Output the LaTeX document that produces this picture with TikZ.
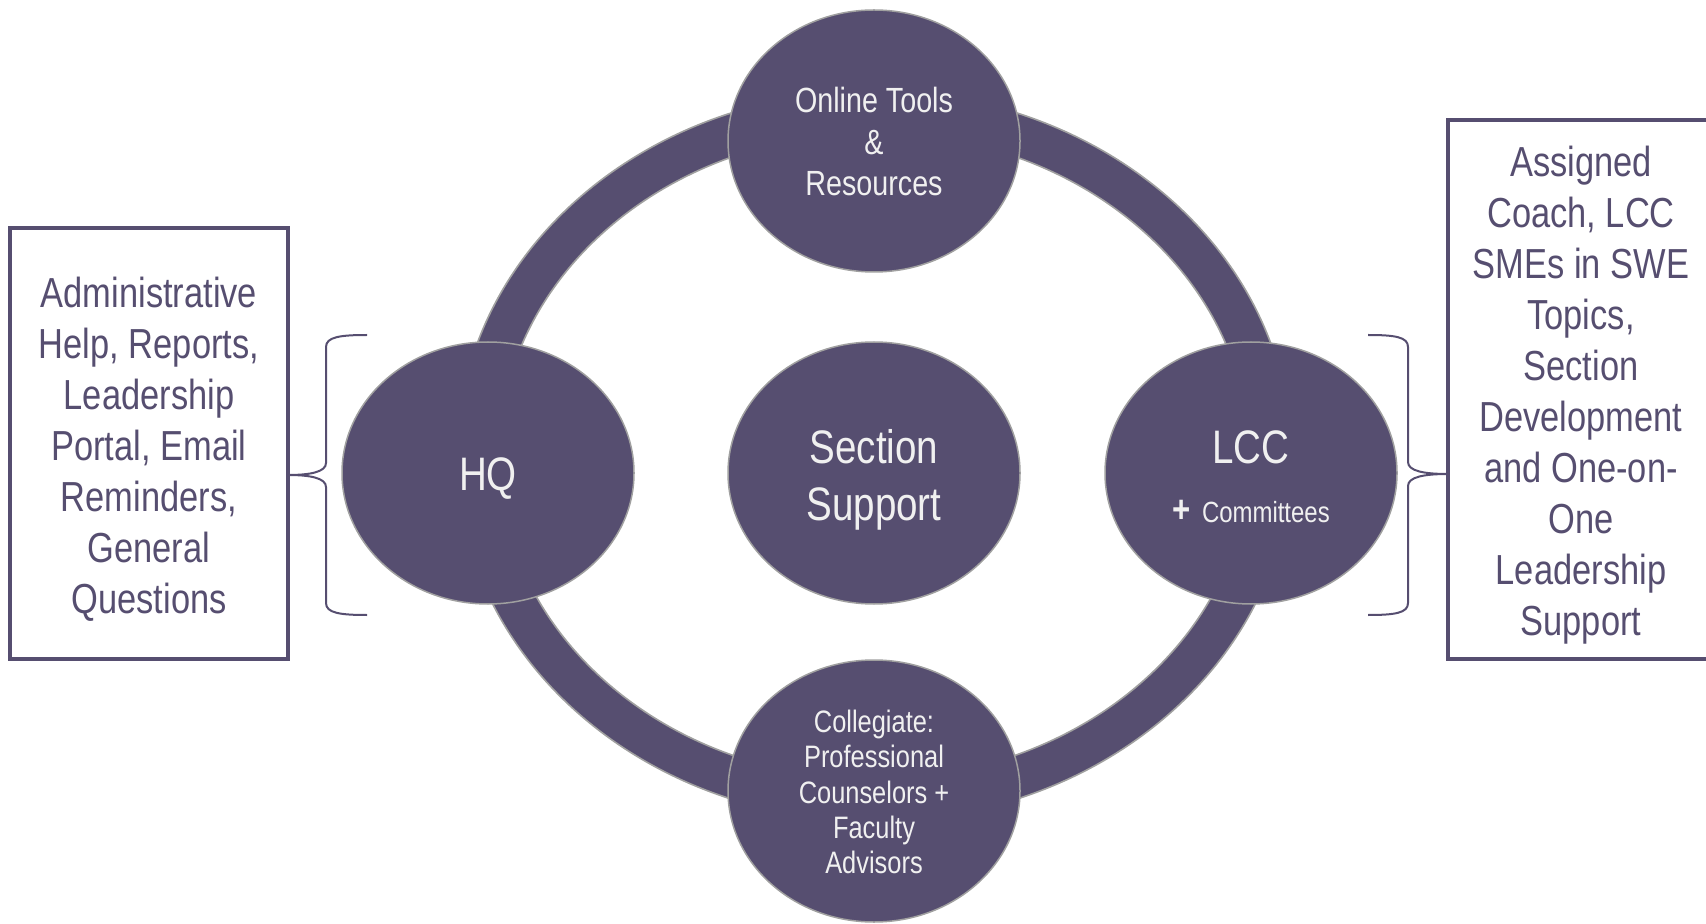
\documentclass[tikz,border=0pt]{standalone}
\usepackage{fontspec}
\setmainfont{Liberation Sans}[FakeStretch=0.82]
\usetikzlibrary{shapes.geometric}
\definecolor{sweP}{RGB}{86,78,112}
\definecolor{rimG}{RGB}{160,160,160}
\definecolor{txtW}{RGB}{240,240,240}
\tikzset{
  bubble/.style={ellipse, fill=sweP, draw=rimG, line width=0.75pt,
    minimum width=146pt, minimum height=131pt, inner sep=0pt,
    text=txtW, align=center},
  bubbletext/.style={text=txtW, align=center, inner sep=0pt},
  infobox/.style={draw=sweP, line width=2pt},
  infotext/.style={text=sweP, align=center, font=\fontsize{21}{25.5}\selectfont},
  bracket/.style={draw=sweP, line width=1pt}
}
\begin{document}
\begin{tikzpicture}[x=0.5pt,y=-0.5pt]
\useasboundingbox (0,0) rectangle (1706,924);
% ring
\fill[sweP, even odd rule, draw=rimG, line width=0.8pt]
  (874,456) ellipse [x radius=417, y radius=365]
  (874,456) ellipse [x radius=375, y radius=323];
% bubbles
\node[bubble] (tools) at (874,141) {};
\node[bubbletext, font=\fontsize{17.5}{20.7}\selectfont] (toolst) at (874,141.8) {Online Tools\\\&\\Resources};
\node[bubble] (sect) at (874,473) {};
\node[bubbletext, font=\fontsize{23.5}{28.3}\selectfont] (sectt) at (874,480) {Section\\Support};
\node[bubble] (hq) at (488,473) {};
\node[bubbletext, font=\fontsize{23.5}{28}\selectfont] (hqt) at (488,479) {HQ};
\node[bubble] (lcc) at (1251,473) {};
\node[bubbletext, font=\fontsize{23.5}{28}\selectfont] (lcct) at (1251,447) {LCC};
\node[bubbletext, font=\fontsize{14.6}{17}\selectfont] (lccc) at (1251,511) {{\fontsize{19}{17}\selectfont\bfseries +}\, Committees};
\node[bubble] (coll) at (874,791) {};
\node[bubbletext, font=\fontsize{15.5}{17.7}\selectfont] (collt) at (874,792) {Collegiate:\\Professional\\Counselors +\\Faculty\\Advisors};
% boxes
\draw[infobox] (10,228) rectangle (288,659);
\node[infotext] (lefttext) at (149,449) {Administrative\\Help, Reports,\\Leadership\\Portal, Email\\Reminders,\\General\\Questions};
\draw[infobox] (1448,120) rectangle (1730,659);
\node[infotext] (righttext) at (1581,395) {Assigned\\Coach, LCC\\SMEs in SWE\\Topics,\\Section\\Development\\and One-on-\\One\\Leadership\\Support};
% braces
\coordinate (ltip) at (288,475);
\coordinate (rtip) at (1448,474);
\draw[bracket] (367,335) .. controls (340,335) and (326,337) .. (326,347)
  -- (326,463) .. controls (326,472) and (310,475) .. (ltip)
  .. controls (310,475) and (326,478) .. (326,487)
  -- (326,603) .. controls (326,613) and (340,615) .. (367,615);
\draw[bracket] (1368,335) .. controls (1395,335) and (1408,337) .. (1408,347)
  -- (1408,462) .. controls (1408,471) and (1424,474) .. (rtip)
  .. controls (1424,474) and (1408,477) .. (1408,486)
  -- (1408,603) .. controls (1408,613) and (1395,615) .. (1368,615);
\end{tikzpicture}
\end{document}
